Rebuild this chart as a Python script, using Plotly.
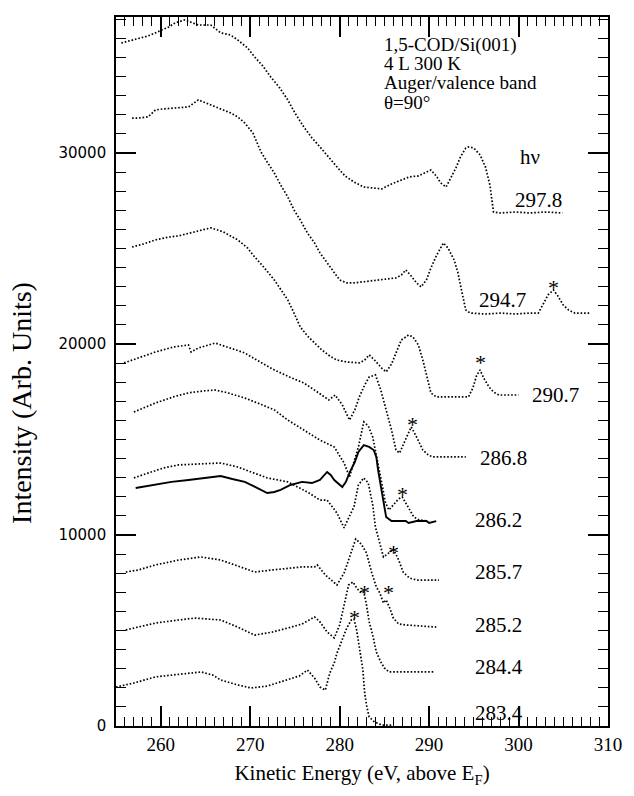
import plotly.graph_objects as go

# Photon energies (eV) used as curve labels, top to bottom
hv_labels = ["297.8", "294.7", "290.7", "286.8", "286.2", "285.7", "285.2", "284.4", "283.4"]

# Kinetic energy (eV) / intensity (arb. units) for each spectrum
ke_2978 = [255.6, 257.0, 258.6, 259.4, 260.9, 261.6, 262.7, 264.2, 265.6, 266.7, 267.8, 268.6, 269.7, 270.5,
           271.4, 272.3, 273.3, 274.2, 275.0, 276.0, 276.9, 277.8, 278.8, 279.7, 280.6, 281.6, 282.7, 283.8,
           284.7, 285.8, 286.9, 287.8, 288.8, 289.7, 290.2, 290.8, 291.3, 291.9, 292.4, 293.0, 293.5, 294.1,
           294.4, 295.0, 295.7, 296.3, 296.8, 297.2, 298.0, 299.6, 301.3, 303.0, 304.9]
int_2978 = [35760, 35920, 36130, 36290, 36600, 36810, 36970, 36700, 36700, 36290, 36180, 35920, 35500, 35030,
            34560, 33980, 33410, 32780, 32100, 31360, 30790, 30320, 29740, 29270, 28800, 28480, 28220, 28170,
            28120, 28380, 28590, 28750, 28800, 29010, 29110, 28800, 28430, 28220, 28690, 29220, 29790, 30260,
            30320, 30260, 29900, 29270, 28330, 26910, 26860, 26910, 26860, 26910, 26860]

ke_2947 = [256.8, 257.5, 258.6, 259.4, 260.3, 261.4, 263.1, 264.2, 265.3, 266.1, 266.9, 267.8, 268.6, 269.4,
           270.3, 271.2, 271.9, 272.7, 273.4, 274.2, 274.9, 275.6, 276.4, 277.2, 277.8, 278.6, 279.4, 280.0,
           280.8, 281.6, 282.5, 283.3, 284.1, 285.2, 286.3, 286.9, 287.4, 288.0, 288.6, 289.1, 289.7, 290.2,
           290.8, 291.6, 292.1, 292.8, 293.2, 293.5, 293.9, 294.1, 294.6, 296.3, 298.0, 299.6, 301.3, 302.2,
           302.7, 303.3, 303.9, 304.4, 305.0, 305.6, 306.3, 308.0]
int_2947 = [31830, 31830, 31890, 32250, 32310, 32360, 32410, 32780, 32570, 32410, 32250, 32100, 31890, 31570,
            31050, 30060, 29530, 28950, 28330, 27700, 27020, 26490, 25810, 25290, 24770, 24240, 23770, 23350,
            23200, 23200, 23250, 23300, 23350, 23410, 23460, 23610, 23880, 23560, 23200, 22990, 23350, 23980,
            24610, 25290, 25030, 24400, 23770, 23090, 22310, 21780, 21620, 21570, 21620, 21570, 21620, 21620,
            22040, 22570, 22830, 22510, 22040, 21780, 21620, 21620]

ke_2907 = [256.8, 258.1, 259.4, 260.9, 262.0, 263.1, 264.2, 265.6, 267.0, 268.6, 269.7, 270.5, 271.4, 272.7,
           273.6, 274.2, 274.9, 275.6, 276.4, 277.2, 278.0, 278.9, 279.7, 280.8, 281.6, 282.2, 282.8, 283.3,
           283.9, 284.7, 285.2, 285.8, 286.3, 286.9, 287.7, 288.2, 288.8, 289.3, 289.8, 290.2, 290.8, 292.4,
           294.4, 294.9, 295.3, 295.7, 296.1, 296.7, 297.2, 297.8, 298.9, 300.0]
int_2907 = [25080, 25240, 25450, 25600, 25660, 25810, 25920, 26080, 25870, 25450, 25030, 24560, 24090, 23350,
            22720, 22310, 21620, 20890, 20420, 20050, 19690, 19370, 19160, 19060, 19010, 19010, 19160, 19430,
            19160, 18740, 18540, 18950, 19530, 20210, 20470, 20370, 19950, 19160, 18220, 17440, 17230, 17230,
            17230, 17700, 18330, 18640, 18220, 17750, 17490, 17330, 17330, 17330]

ke_2868 = [255.9, 257.5, 259.4, 261.4, 263.1, 263.4, 264.2, 266.1, 267.5, 269.4, 271.1, 272.7, 274.4, 276.0,
           277.5, 278.6, 278.8, 279.5, 280.3, 281.1, 281.7, 282.2, 282.8, 283.3, 284.0, 284.6, 285.2, 285.8,
           286.3, 286.7, 287.2, 287.7, 288.0, 288.6, 289.3, 289.9, 290.4, 291.9, 294.1]
int_2868 = [19010, 19270, 19580, 19840, 19950, 19580, 19790, 20050, 19840, 19530, 19060, 18640, 18270, 17960,
            17490, 17170, 17070, 17330, 16810, 16020, 16550, 17230, 17850, 18270, 18380, 17590, 16550, 15500,
            14450, 14290, 14820, 15390, 15660, 15130, 14450, 14190, 14090, 14090, 14090]

ke_2862 = [257.0, 258.1, 259.4, 261.4, 263.1, 264.7, 266.1, 267.5, 269.4, 271.1, 272.7, 274.2, 276.0, 277.8,
           279.4, 280.0, 280.5, 281.1, 281.6, 282.1, 282.7, 283.2, 283.7, 284.1, 284.5, 284.8, 285.1, 285.5,
           286.0, 286.6, 287.0, 287.4, 287.9, 288.3, 288.9, 289.9]
int_2862 = [16440, 16650, 16910, 17230, 17440, 17540, 17590, 17440, 17170, 16860, 16550, 16020, 15500, 14970,
            14610, 14190, 13770, 13040, 13820, 14610, 15920, 15710, 15130, 14190, 13400, 12510, 11730, 11310,
            11570, 11890, 11990, 11680, 11260, 10940, 10790, 10730]

ke_2857 = [257.0, 258.6, 260.3, 262.0, 264.2, 266.7, 268.6, 270.5, 271.9, 274.2, 276.4, 277.8, 278.6, 279.7,
           280.5, 281.0, 281.6, 282.1, 282.7, 283.2, 283.7, 284.0, 284.5, 284.9, 285.5, 286.0, 286.6, 287.1,
           287.8, 288.6, 291.1]
int_2857 = [12990, 13250, 13510, 13670, 13720, 13770, 13560, 13250, 12990, 12780, 12250, 11830, 11830, 11150,
            10370, 10890, 11470, 12620, 12990, 12720, 11570, 10420, 9580, 8850, 9060, 9270, 8690, 8060,
            7750, 7640, 7640]

ke_2852 = [256.1, 257.5, 259.4, 262.0, 264.5, 266.7, 268.6, 270.5, 272.5, 274.2, 275.8, 277.2, 277.5, 278.4,
           279.4, 279.7, 280.5, 281.1, 281.8, 282.4, 283.0, 283.6, 284.1, 284.5, 284.9, 285.2, 285.6, 286.0,
           286.6, 287.4, 290.8]
int_2852 = [8060, 8170, 8430, 8690, 8850, 8690, 8380, 8060, 8170, 8270, 8330, 8330, 8430, 7910,
            7490, 7380, 8010, 8850, 9790, 9530, 9060, 8010, 7280, 6960, 6440, 6600, 6180, 5650,
            5340, 5290, 5180]

ke_2844 = [256.1, 257.5, 259.4, 262.0, 263.8, 266.7, 268.6, 270.5, 272.5, 274.2, 275.8, 277.2, 277.8, 278.6,
           279.4, 280.0, 280.6, 281.0, 281.5, 281.9, 282.4, 282.7, 283.0, 283.3, 283.7, 284.1, 284.6, 285.0,
           285.5, 286.9, 290.6]
int_2844 = [5030, 5180, 5390, 5550, 5650, 5550, 5180, 4760, 4920, 5130, 5340, 5710, 5450, 4920,
            4610, 5290, 6600, 7380, 7540, 7230, 6960, 7020, 6340, 5450, 4760, 3870, 3350, 3040,
            2830, 2830, 2830]

ke_2834 = [255.0, 257.0, 259.4, 262.0, 264.5, 265.8, 266.7, 268.6, 270.1, 271.9, 274.2, 275.5, 276.4, 277.2,
           277.8, 278.4, 278.9, 279.4, 279.7, 280.3, 280.8, 281.3, 281.6, 281.9, 282.1, 282.4, 282.6, 282.8,
           283.0, 283.3, 283.9, 284.7, 285.8]
int_2834 = [2040, 2250, 2570, 2720, 2830, 2670, 2410, 2150, 1990, 2090, 2410, 2620, 2930, 2510,
            2040, 1880, 2780, 3300, 3820, 4500, 5130, 5550, 5600, 5030, 4450, 3720, 2930, 1730,
            1100, 470, 210, 50, 50]

# Reference spectrum drawn as a solid line
ke_ref = [257.2, 258.6, 259.7, 261.2, 263.1, 264.7, 266.7, 268.0, 269.4, 270.6, 271.4, 271.9, 272.7, 273.4,
          274.5, 275.8, 276.9, 277.8, 278.6, 279.0, 279.4, 279.9, 280.3, 280.7, 281.1, 281.7, 282.1, 282.7,
          283.3, 283.8, 284.1, 284.3, 284.7, 285.0, 285.2, 285.8, 287.4, 287.7, 288.6, 289.7, 290.0, 290.8]
int_ref = [12460, 12570, 12670, 12780, 12880, 12990, 13090, 12930, 12780, 12510, 12300, 12200, 12250, 12360,
           12620, 12780, 12720, 12880, 13300, 13140, 12880, 12670, 12510, 12780, 13250, 13820, 14350, 14710,
           14610, 14450, 14090, 13400, 12360, 11570, 10940, 10730, 10730, 10630, 10730, 10730, 10630, 10730]

# Label anchor points (kinetic energy, intensity) for each hv value
label_ke = [302.2, 298.2, 304.1, 298.3, 297.8, 297.8, 297.8, 297.8, 297.8]
label_int = [27540, 22310, 17330, 14030, 10790, 8060, 5290, 3090, 680]

# Second-order peaks marked with asterisks
star_ke = [303.9, 295.7, 288.1, 287.0, 286.0, 285.5, 282.8, 281.7]
star_int = [23250, 19320, 16120, 12460, 9380, 7280, 7280, 5970]

spectra = [(ke_2978, int_2978), (ke_2947, int_2947), (ke_2907, int_2907), (ke_2868, int_2868),
           (ke_2862, int_2862), (ke_2857, int_2857), (ke_2852, int_2852), (ke_2844, int_2844),
           (ke_2834, int_2834)]

SERIF = "Liberation Serif"
X_RANGE = [255, 310]
Y_RANGE = [0, 37120]

fig = go.Figure()

for (ke, inten), name in zip(spectra, hv_labels):
    fig.add_trace(go.Scatter(
        x=ke, y=inten, mode="lines", name=name, showlegend=False,
        line=dict(color="black", width=1.7, dash="1.6px,1.9px"),
    ))

fig.add_trace(go.Scatter(
    x=ke_ref, y=int_ref, mode="lines", showlegend=False,
    line=dict(color="black", width=1.9),
))

# Empty trace that brings the mirrored top/right tick axes into being
fig.add_trace(go.Scatter(x=[None], y=[None], xaxis="x2", yaxis="y2", showlegend=False,
                         hoverinfo="skip", mode="lines"))

annotations = []
for x, y, t in zip(label_ke, label_int, hv_labels):
    annotations.append(dict(x=x, y=y, text=t, showarrow=False, xanchor="center", yanchor="middle",
                            font=dict(family=SERIF, size=21, color="black")))
for x, y in zip(star_ke, star_int):
    annotations.append(dict(x=x, y=y, text="*", showarrow=False, xanchor="center", yanchor="middle",
                            yshift=-6, font=dict(family=SERIF, size=22, color="black")))

annotations.append(dict(x=301.3, y=29790, text="hν", showarrow=False, xanchor="center", yanchor="middle",
                        font=dict(family=SERIF, size=21, color="black")))

info_lines = ["1,5-COD/Si(001)", "4 L 300 K", "Auger/valence band", "θ=90°"]
info_y = [35660, 34660, 33670, 32670]
for t, y in zip(info_lines, info_y):
    annotations.append(dict(x=284.7, y=y, text=t, showarrow=False, xanchor="left", yanchor="middle",
                            font=dict(family=SERIF, size=19, color="black")))

annotations.append(dict(xref="paper", yref="paper", x=-0.192, y=0.455, text="Intensity (Arb. Units)",
                        textangle=-90, showarrow=False, xanchor="center", yanchor="middle",
                        font=dict(family=SERIF, size=28, color="black")))

common_tick = dict(ticks="inside", ticklen=20, tickwidth=1.5, tickcolor="black",
                   showgrid=False, zeroline=False)

fig.update_layout(
    width=634, height=796,
    margin=dict(l=116, r=22, t=17, b=70),
    paper_bgcolor="white", plot_bgcolor="white",
    annotations=annotations,
    xaxis=dict(
        range=X_RANGE, dtick=10, tick0=260,
        showline=True, linecolor="black", linewidth=1.6, mirror=True,
        minor=dict(ticks="inside", ticklen=9, dtick=1, tickwidth=1, tickcolor="black", showgrid=False),
        tickfont=dict(family=SERIF, size=19, color="black"),
        title=dict(text="Kinetic Energy (eV, above E<sub>F</sub>)", standoff=12,
                   font=dict(family=SERIF, size=21, color="black")),
        **common_tick,
    ),
    yaxis=dict(
        range=Y_RANGE, dtick=10000, tickformat="d",
        showline=True, linecolor="black", linewidth=1.6, mirror=True,
        minor=dict(ticks="inside", ticklen=10, dtick=1000, tickwidth=1, tickcolor="black", showgrid=False),
        tickfont=dict(family="DejaVu Sans", size=15, color="black"),
        ticklabelstandoff=5,
        **common_tick,
    ),
    xaxis2=dict(
        range=X_RANGE, dtick=10, tick0=260, overlaying="x", side="top", anchor="y",
        showticklabels=False, showline=False,
        minor=dict(ticks="inside", ticklen=9, dtick=1, tickwidth=1, tickcolor="black", showgrid=False),
        **common_tick,
    ),
    yaxis2=dict(
        range=Y_RANGE, dtick=10000, overlaying="y", side="right", anchor="x",
        showticklabels=False, showline=False,
        minor=dict(ticks="inside", ticklen=10, dtick=1000, tickwidth=1, tickcolor="black", showgrid=False),
        **common_tick,
    ),
)

fig.write_html("out.html")
